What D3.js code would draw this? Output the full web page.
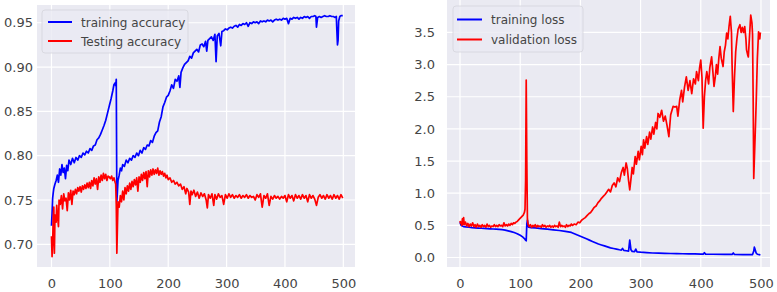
<!DOCTYPE html>
<html>
<head>
<meta charset="utf-8">
<script src="https://cdn.jsdelivr.net/npm/d3@7/dist/d3.min.js"></script>
<style>
  body { margin: 0; background: #fff; }
  text { font-family: "DejaVu Sans", sans-serif; }
</style>
</head>
<body>
<svg id="chart" width="777" height="292"></svg>
<script>
// values, [epoch, value]
var trainAcc = [[0,0.721],[1,0.735],[2,0.752],[3,0.758],[4,0.763],[6,0.768],[8,0.772],[10,0.778],[12,0.770],[14,0.785],[16,0.778],[18,0.790],[20,0.781],[22,0.786],[24,0.774],[26,0.789],[28,0.783],[30,0.795],[33,0.790],[36,0.797],[39,0.792],[42,0.798],[45,0.795],[48,0.800],[51,0.798],[54,0.803],[57,0.801],[60,0.805],[63,0.803],[66,0.808],[69,0.806],[72,0.811],[75,0.812],[78,0.818],[81,0.820],[84,0.824],[87,0.829],[90,0.834],[93,0.840],[96,0.848],[99,0.856],[102,0.864],[105,0.873],[107,0.880],[109,0.882],[110,0.879],[111,0.886],[112,0.748],[113,0.760],[114,0.772],[116,0.778],[118,0.786],[120,0.783],[122,0.790],[125,0.788],[128,0.795],[131,0.792],[134,0.797],[137,0.795],[140,0.800],[143,0.798],[146,0.803],[149,0.800],[152,0.806],[155,0.803],[158,0.809],[161,0.807],[164,0.812],[167,0.811],[170,0.817],[173,0.815],[176,0.822],[179,0.826],[182,0.828],[185,0.838],[188,0.844],[191,0.855],[194,0.860],[197,0.866],[200,0.868],[203,0.873],[206,0.880],[209,0.876],[212,0.886],[215,0.884],[218,0.890],[220,0.877],[222,0.894],[225,0.899],[228,0.903],[231,0.905],[234,0.907],[237,0.912],[240,0.910],[243,0.916],[246,0.918],[249,0.920],[252,0.917],[255,0.925],[258,0.926],[261,0.923],[264,0.929],[266,0.918],[268,0.930],[271,0.932],[274,0.934],[277,0.930],[280,0.937],[282,0.906],[284,0.935],[287,0.938],[290,0.924],[292,0.940],[295,0.941],[298,0.943],[301,0.942],[304,0.944],[307,0.945],[310,0.944],[313,0.946],[316,0.947],[319,0.945],[322,0.948],[325,0.947],[328,0.949],[331,0.948],[334,0.950],[337,0.946],[340,0.950],[343,0.949],[346,0.951],[349,0.950],[352,0.951],[355,0.949],[358,0.952],[361,0.951],[364,0.952],[367,0.951],[370,0.953],[373,0.952],[376,0.953],[379,0.951],[382,0.953],[385,0.954],[388,0.953],[391,0.954],[394,0.953],[397,0.955],[400,0.954],[403,0.955],[406,0.949],[409,0.955],[412,0.954],[415,0.956],[418,0.955],[421,0.956],[424,0.954],[427,0.956],[430,0.955],[433,0.957],[436,0.956],[439,0.957],[442,0.955],[445,0.957],[448,0.957],[451,0.958],[453,0.957],[454,0.945],[456,0.956],[459,0.957],[462,0.956],[465,0.957],[468,0.958],[471,0.957],[474,0.957],[477,0.958],[480,0.957],[483,0.957],[486,0.956],[488,0.957],[489,0.940],[490,0.925],[491,0.930],[492,0.952],[494,0.957],[496,0.958],[499,0.958]];

var testAcc = [[0,0.709],[1,0.686],[2,0.700],[3,0.730],[4,0.742],[5,0.690],[6,0.733],[8,0.725],[9,0.744],[10,0.735],[12,0.720],[13,0.750],[15,0.745],[17,0.755],[19,0.740],[21,0.757],[23,0.749],[25,0.752],[27,0.738],[29,0.758],[31,0.750],[33,0.761],[35,0.745],[37,0.760],[39,0.756],[41,0.762],[43,0.757],[45,0.764],[47,0.760],[49,0.765],[51,0.759],[53,0.766],[55,0.762],[57,0.767],[59,0.763],[61,0.769],[63,0.764],[65,0.770],[67,0.763],[69,0.772],[71,0.766],[73,0.775],[75,0.768],[77,0.774],[79,0.762],[81,0.776],[83,0.770],[85,0.778],[87,0.772],[89,0.780],[91,0.774],[93,0.779],[95,0.772],[97,0.777],[99,0.776],[101,0.774],[103,0.777],[105,0.772],[107,0.775],[109,0.770],[110,0.768],[111,0.745],[112,0.690],[113,0.720],[114,0.748],[116,0.742],[118,0.755],[120,0.748],[122,0.760],[124,0.750],[126,0.764],[128,0.757],[130,0.766],[132,0.760],[134,0.769],[136,0.762],[138,0.771],[140,0.765],[142,0.773],[144,0.767],[146,0.775],[148,0.760],[150,0.776],[152,0.770],[154,0.779],[156,0.772],[158,0.781],[160,0.774],[162,0.782],[164,0.765],[166,0.783],[168,0.776],[170,0.784],[172,0.778],[174,0.785],[176,0.779],[178,0.784],[180,0.780],[182,0.786],[184,0.778],[186,0.783],[188,0.779],[190,0.782],[192,0.777],[194,0.780],[196,0.775],[198,0.778],[200,0.773],[203,0.775],[206,0.770],[209,0.772],[212,0.768],[215,0.770],[218,0.766],[221,0.768],[224,0.762],[227,0.765],[230,0.757],[232,0.763],[235,0.759],[237,0.745],[239,0.760],[241,0.756],[244,0.761],[247,0.754],[250,0.759],[253,0.752],[256,0.758],[259,0.754],[262,0.757],[265,0.750],[267,0.741],[269,0.756],[272,0.752],[275,0.757],[278,0.744],[280,0.756],[283,0.751],[286,0.757],[289,0.753],[292,0.755],[295,0.745],[298,0.756],[301,0.752],[304,0.757],[307,0.753],[310,0.756],[313,0.752],[316,0.755],[319,0.753],[322,0.756],[325,0.752],[328,0.755],[331,0.753],[334,0.756],[337,0.752],[340,0.755],[343,0.753],[346,0.754],[349,0.750],[352,0.756],[355,0.753],[358,0.757],[361,0.742],[364,0.755],[367,0.752],[370,0.757],[373,0.744],[376,0.754],[379,0.751],[382,0.755],[385,0.752],[388,0.754],[391,0.751],[394,0.754],[397,0.752],[400,0.755],[403,0.748],[406,0.756],[409,0.752],[412,0.755],[415,0.749],[418,0.756],[421,0.752],[424,0.755],[427,0.751],[430,0.756],[433,0.752],[436,0.755],[439,0.748],[442,0.756],[445,0.752],[448,0.755],[451,0.751],[454,0.744],[457,0.753],[460,0.756],[463,0.752],[466,0.755],[469,0.751],[472,0.756],[475,0.752],[478,0.755],[481,0.751],[484,0.756],[487,0.752],[490,0.755],[493,0.751],[496,0.756],[499,0.752]];

var trainLoss = [[0,0.55],[1,0.52],[2,0.50],[4,0.49],[6,0.48],[10,0.475],[15,0.47],[20,0.465],[25,0.462],[30,0.458],[35,0.455],[40,0.452],[45,0.449],[50,0.446],[55,0.443],[60,0.44],[65,0.437],[70,0.432],[75,0.426],[80,0.415],[85,0.403],[90,0.388],[95,0.37],[100,0.345],[104,0.32],[107,0.295],[109,0.27],[110,0.26],[111,0.52],[112,0.58],[113,0.50],[114,0.47],[118,0.465],[125,0.46],[135,0.45],[145,0.44],[155,0.43],[165,0.42],[175,0.405],[185,0.39],[190,0.37],[195,0.35],[200,0.33],[205,0.31],[210,0.29],[215,0.27],[220,0.25],[225,0.23],[230,0.21],[235,0.195],[240,0.18],[245,0.165],[250,0.15],[255,0.14],[260,0.13],[265,0.12],[268,0.115],[270,0.14],[272,0.11],[276,0.105],[280,0.10],[282,0.27],[284,0.12],[286,0.095],[290,0.09],[292,0.13],[294,0.088],[300,0.082],[310,0.075],[320,0.07],[330,0.067],[340,0.065],[350,0.062],[360,0.06],[370,0.058],[380,0.056],[390,0.055],[400,0.053],[404,0.052],[406,0.075],[408,0.052],[420,0.05],[440,0.048],[452,0.047],[454,0.07],[456,0.047],[470,0.046],[486,0.045],[488,0.10],[489,0.16],[490,0.13],[492,0.07],[494,0.05],[499,0.04]];

var valLoss = [[0,0.57],[1,0.53],[2,0.55],[3,0.50],[4,0.60],[5,0.52],[6,0.62],[7,0.51],[9,0.55],[11,0.49],[13,0.53],[15,0.48],[17,0.52],[19,0.49],[21,0.54],[23,0.48],[25,0.51],[27,0.47],[29,0.52],[31,0.48],[33,0.50],[35,0.47],[37,0.51],[39,0.48],[41,0.50],[43,0.47],[45,0.52],[47,0.48],[49,0.50],[51,0.47],[53,0.49],[55,0.48],[57,0.51],[59,0.48],[61,0.50],[63,0.48],[65,0.51],[67,0.49],[69,0.50],[71,0.48],[73,0.54],[75,0.49],[77,0.51],[79,0.49],[81,0.52],[83,0.50],[85,0.53],[87,0.51],[89,0.54],[91,0.53],[93,0.55],[95,0.56],[97,0.58],[99,0.60],[101,0.62],[103,0.64],[105,0.66],[107,0.70],[108,0.75],[109,1.2],[110,2.76],[111,1.5],[112,0.60],[113,0.52],[115,0.48],[117,0.51],[119,0.47],[121,0.50],[123,0.48],[125,0.51],[127,0.47],[129,0.50],[131,0.48],[133,0.49],[135,0.47],[137,0.51],[139,0.48],[141,0.50],[143,0.47],[145,0.49],[147,0.48],[149,0.50],[151,0.47],[153,0.49],[155,0.47],[157,0.50],[159,0.48],[161,0.49],[163,0.47],[165,0.55],[167,0.48],[169,0.50],[171,0.48],[173,0.49],[175,0.47],[177,0.51],[179,0.48],[181,0.50],[183,0.49],[185,0.52],[187,0.50],[190,0.52],[193,0.51],[196,0.55],[199,0.54],[202,0.58],[205,0.60],[208,0.62],[211,0.65],[214,0.68],[217,0.70],[220,0.74],[223,0.78],[226,0.80],[229,0.85],[232,0.88],[235,0.92],[238,0.95],[241,0.98],[244,1.02],[247,1.06],[250,1.02],[253,1.12],[256,1.16],[259,1.10],[262,1.24],[265,1.18],[268,1.32],[271,1.40],[273,1.28],[276,1.47],[278,1.38],[280,1.20],[282,1.05],[284,1.22],[286,1.40],[288,1.30],[291,1.57],[293,1.45],[296,1.65],[298,1.52],[301,1.73],[303,1.60],[305,1.83],[307,1.70],[310,1.88],[312,1.76],[315,1.95],[317,1.84],[320,2.03],[322,1.92],[325,2.10],[327,2.00],[329,2.24],[332,2.18],[335,2.29],[338,2.12],[341,2.20],[344,2.05],[347,1.88],[350,2.22],[354,2.35],[357,2.34],[360,2.35],[362,2.20],[365,2.45],[368,2.60],[370,2.42],[373,2.65],[376,2.81],[379,2.60],[382,2.75],[385,2.55],[388,2.78],[391,2.70],[393,2.89],[396,2.75],[398,2.95],[400,3.07],[402,2.80],[404,2.01],[406,2.50],[408,2.75],[410,2.89],[413,2.70],[415,2.95],[418,3.12],[420,2.90],[422,2.66],[424,2.80],[426,3.00],[428,2.85],[430,3.10],[432,3.28],[434,3.10],[437,2.97],[439,3.20],[441,3.30],[443,3.49],[445,3.40],[447,3.60],[449,3.75],[451,3.50],[452,3.00],[454,2.27],[456,2.80],[458,3.20],[460,3.40],[462,3.55],[465,3.62],[467,3.50],[469,3.58],[471,3.50],[473,3.59],[475,3.40],[476,3.23],[478,3.15],[479,3.12],[481,3.45],[483,3.77],[485,3.65],[486,3.47],[487,2.50],[488,1.23],[490,1.80],[492,2.40],[494,3.10],[496,3.51],[498,3.40],[499,3.50]];

var epochTicks = [0, 100, 200, 300, 400, 500];
var accTicks = [0.70, 0.75, 0.80, 0.85, 0.90, 0.95];
var lossTicks = [0.0, 0.5, 1.0, 1.5, 2.0, 2.5, 3.0, 3.5];
var accLabels = ["training accuracy", "Testing accuracy"];
var lossLabels = ["training loss", "validation loss"];

var svg = d3.select("#chart");

function drawPanel(p) {
  var g = svg.append("g");
  var x = d3.scaleLinear().domain(p.xDomain).range([p.left, p.right]);
  var y = d3.scaleLinear().domain(p.yDomain).range([p.bottom, p.top]);

  g.append("rect")
    .attr("x", p.left).attr("y", p.top)
    .attr("width", p.right - p.left).attr("height", p.bottom - p.top)
    .attr("fill", "#EAEAF2");

  // white grid
  g.append("g").selectAll("line").data(epochTicks).enter().append("line")
    .attr("x1", d => x(d)).attr("x2", d => x(d))
    .attr("y1", p.top).attr("y2", p.bottom)
    .attr("stroke", "#fff").attr("stroke-width", 1.2);
  g.append("g").selectAll("line").data(p.yTicks).enter().append("line")
    .attr("x1", p.left).attr("x2", p.right)
    .attr("y1", d => y(d)).attr("y2", d => y(d))
    .attr("stroke", "#fff").attr("stroke-width", 1.2);

  var xAxis = g.append("g")
    .attr("transform", `translate(0,${p.bottom})`)
    .call(d3.axisBottom(x).tickValues(epochTicks).tickSize(0).tickPadding(12));
  var yAxis = g.append("g")
    .attr("transform", `translate(${p.left},0)`)
    .call(d3.axisLeft(y).tickValues(p.yTicks).tickFormat(p.fmt).tickSize(0).tickPadding(p.left - p.labelX));
  [xAxis, yAxis].forEach(a => {
    a.select(".domain").remove();
    a.selectAll("text").attr("fill", "#454545").style("font-size", "13px")
      .style("font-family", '"DejaVu Sans", sans-serif');
  });

  var line = d3.line().x(d => x(d[0])).y(d => y(d[1]));
  p.series.forEach(s => {
    g.append("path").datum(s.data)
      .attr("d", line)
      .attr("fill", "none")
      .attr("stroke", s.color)
      .attr("stroke-width", 1.7)
      .attr("stroke-linejoin", "round");
  });

  // legend
  var L = p.legend;
  g.append("rect")
    .attr("x", L.x).attr("y", L.y).attr("width", L.w).attr("height", L.h)
    .attr("rx", 3)
    .attr("fill", "#EAEAF2").attr("fill-opacity", 0.8)
    .attr("stroke", "#d4d4dc").attr("stroke-width", 0.8);
  p.series.forEach((s, i) => {
    var ry = L.rowY[i];
    g.append("line")
      .attr("x1", L.lineX[0]).attr("x2", L.lineX[1])
      .attr("y1", ry).attr("y2", ry)
      .attr("stroke", s.color).attr("stroke-width", 2);
    g.append("text")
      .attr("x", L.textX).attr("y", ry + 4.5)
      .attr("fill", "#454545")
      .style("font-size", "12px")
      .text(p.labels[i]);
  });
}

drawPanel({
  left: 37, right: 355, top: 5, bottom: 267,
  xDomain: [-24.8, 520], yDomain: [0.6744, 0.970],
  yTicks: accTicks, fmt: d3.format(".2f"), labelX: 33,
  labels: accLabels,
  series: [{data: trainAcc, color: "#0000ff"}, {data: testAcc, color: "#ff0000"}],
  legend: {x: 42, y: 10, w: 146, h: 43, rowY: [22, 41], lineX: [48, 72], textX: 81}
});

drawPanel({
  left: 447, right: 770, top: 0, bottom: 267,
  xDomain: [-21.6, 515], yDomain: [-0.148, 4.005],
  yTicks: lossTicks, fmt: d3.format(".1f"), labelX: 435,
  labels: lossLabels,
  series: [{data: trainLoss, color: "#0000ff"}, {data: valLoss, color: "#ff0000"}],
  legend: {x: 453, y: 6, w: 130, h: 46, rowY: [19.5, 39.5], lineX: [457, 482], textX: 491}
});
</script>
</body>
</html>
